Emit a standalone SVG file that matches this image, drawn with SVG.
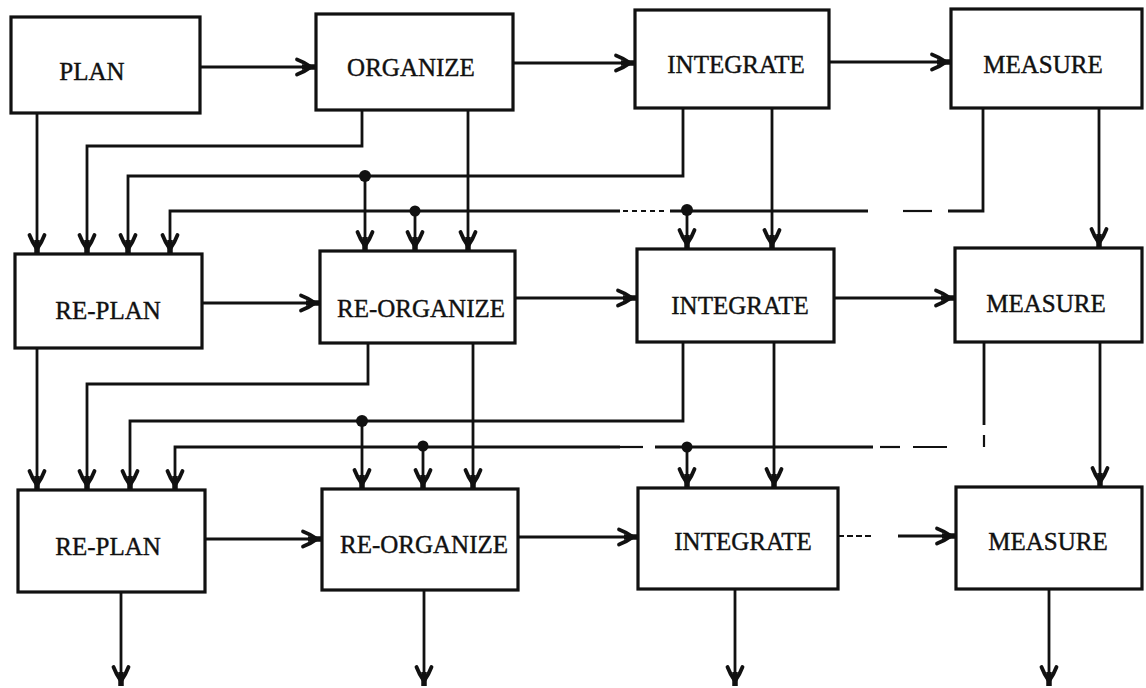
<svg xmlns="http://www.w3.org/2000/svg" width="1146" height="688" viewBox="0 0 1146 688">
<style>
.box{fill:#fff;stroke:#111;stroke-width:3.2}
.lbl{font-family:"Liberation Serif",serif;font-size:25px;fill:#111;text-anchor:middle;stroke:#111;stroke-width:0.4}
.c{fill:none;stroke:#111;stroke-width:2.8}
.t{fill:none;stroke:#111;stroke-width:2.2}
.a{marker-end:url(#ah)}
.dot{fill:#111}
</style>
<defs>
<marker id="ah" markerUnits="userSpaceOnUse" markerWidth="40" markerHeight="40" refX="0" refY="0" orient="auto" overflow="visible">
<path d="M-19,-7.5 Q-11,-4.5 -5,0 Q-11,4.5 -19,7.5" fill="none" stroke="#111" stroke-width="3.8" stroke-linecap="round" stroke-linejoin="round"/>
<path d="M-14,0 H0" stroke="#111" stroke-width="5.5"/>
</marker>
</defs>
<rect width="1146" height="688" fill="#fff"/>
<g id="connectors">
<path class="c a" d="M200,67 H316"/>
<path class="c a" d="M513,63 H635"/>
<path class="c a" d="M829,62 H951"/>
<path class="c a" d="M202,303 H320"/>
<path class="c a" d="M515,298 H637"/>
<path class="c a" d="M834,298 H955"/>
<path class="c a" d="M205,539 H322"/>
<path class="c a" d="M518,537 H638"/>
<path class="t" d="M838,536 H872" stroke-dasharray="6 3"/>
<path class="c a" d="M898,536 H956"/>
<path class="c a" d="M37,113 V254"/>
<path class="c a" d="M362,110 V146 H87 V254"/>
<path class="c a" d="M468,110 V251"/>
<path class="c a" d="M683,108 V176 H128 V254"/>
<path class="c a" d="M365,176 V251"/>
<path class="c" d="M983,108 V211 H948"/>
<path class="t" d="M932,211 H903"/>
<path class="c" d="M868,211 H670"/>
<path class="t" d="M664,211 H620" stroke-dasharray="5 4"/>
<path class="c a" d="M620,211 H170 V254"/>
<path class="c a" d="M415,211 V251"/>
<path class="c a" d="M687,211 V249"/>
<path class="c a" d="M772,108 V249"/>
<path class="c a" d="M1099,108 V248"/>
<path class="c a" d="M37,348 V490"/>
<path class="c a" d="M368,343 V384 H87 V490"/>
<path class="c a" d="M473,343 V489"/>
<path class="c a" d="M683,342 V421 H130 V490"/>
<path class="c a" d="M362,421 V489"/>
<path class="c" d="M984,342 V425"/>
<path class="t" d="M984,435 V447"/>
<path class="t" d="M947,447 H913"/>
<path class="t" d="M900,447 H880"/>
<path class="c" d="M873,447 H655"/>
<path class="t" d="M643,447 H620"/>
<path class="c a" d="M620,447 H175 V490"/>
<path class="c a" d="M423,447 V489"/>
<path class="c a" d="M687,447 V488"/>
<path class="c a" d="M774,342 V488"/>
<path class="c a" d="M1100,342 V487"/>
<path class="c a" d="M121,592 V686"/>
<path class="c a" d="M424,590 V686"/>
<path class="c a" d="M735,589 V686"/>
<path class="c a" d="M1049,589 V686"/>
<circle class="dot" cx="365" cy="176" r="6"/>
<circle class="dot" cx="415" cy="211" r="5.5"/>
<circle class="dot" cx="687" cy="210" r="6"/>
<circle class="dot" cx="362" cy="421" r="6"/>
<circle class="dot" cx="423" cy="446" r="5.5"/>
<circle class="dot" cx="687" cy="447" r="5.5"/>
</g>
<g id="plan"><rect class="box" x="11" y="17" width="189" height="96"/><text class="lbl" x="92" y="80">PLAN</text></g>
<g id="organize"><rect class="box" x="316" y="14" width="197" height="96"/><text class="lbl" x="411" y="76">ORGANIZE</text></g>
<g id="integrate1"><rect class="box" x="635" y="10" width="194" height="98"/><text class="lbl" x="736" y="73">INTEGRATE</text></g>
<g id="measure1"><rect class="box" x="951" y="9" width="191" height="99"/><text class="lbl" x="1043" y="73">MEASURE</text></g>
<g id="replan2"><rect class="box" x="15" y="254" width="187" height="94"/><text class="lbl" x="108" y="319">RE-PLAN</text></g>
<g id="reorganize2"><rect class="box" x="320" y="251" width="195" height="92"/><text class="lbl" x="421" y="317">RE-ORGANIZE</text></g>
<g id="integrate2"><rect class="box" x="637" y="249" width="197" height="93"/><text class="lbl" x="740" y="314">INTEGRATE</text></g>
<g id="measure2"><rect class="box" x="955" y="248" width="187" height="94"/><text class="lbl" x="1046" y="312">MEASURE</text></g>
<g id="replan3"><rect class="box" x="18" y="490" width="187" height="102"/><text class="lbl" x="108" y="555">RE-PLAN</text></g>
<g id="reorganize3"><rect class="box" x="322" y="489" width="196" height="101"/><text class="lbl" x="424" y="553">RE-ORGANIZE</text></g>
<g id="integrate3"><rect class="box" x="638" y="488" width="200" height="101"/><text class="lbl" x="743" y="550">INTEGRATE</text></g>
<g id="measure3"><rect class="box" x="956" y="487" width="186" height="102"/><text class="lbl" x="1048" y="550">MEASURE</text></g>
</svg>
